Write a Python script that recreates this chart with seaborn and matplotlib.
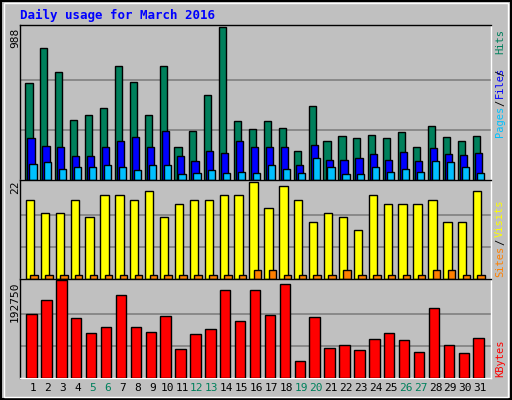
import numpy as np
import pandas as pd
import matplotlib
matplotlib.use("Agg")
import matplotlib.pyplot as plt
import seaborn as sns
from matplotlib.patches import Rectangle

days = list(range(1, 32))
hits = [625, 853, 699, 390, 423, 464, 739, 632, 423, 739, 215, 316, 551, 988, 383, 329,
        383, 336, 188, 477, 255, 282, 269, 289, 269, 309, 215, 349, 276, 255, 282]
files = [269, 222, 215, 155, 155, 215, 255, 276, 215, 316, 155, 121, 188, 175, 249, 215,
         215, 215, 94, 229, 128, 128, 141, 168, 128, 181, 121, 208, 168, 161, 175]
pages = [101, 114, 74, 87, 81, 94, 87, 67, 94, 94, 40, 47, 67, 47, 54, 47,
         94, 74, 47, 141, 87, 40, 40, 87, 54, 74, 54, 121, 114, 81, 47]
visits = [18, 15, 15, 18, 14, 19, 19, 18, 20, 14, 17, 18, 18, 19, 19, 22,
          16, 21, 18, 13, 15, 14, 11, 19, 17, 17, 17, 18, 13, 13, 20]
sites = [1, 1, 1, 1, 1, 1, 1, 1, 1, 1, 1, 1, 1, 1, 1, 2,
         2, 1, 1, 1, 1, 2, 1, 1, 1, 1, 1, 2, 2, 1, 1]
kbytes = [127088, 154600, 192750, 118600, 88960, 101670, 163090, 101670, 91080, 122850,
          57190, 86840, 97430, 173680, 112260, 173680, 124970, 186390, 33890, 120730,
          59310, 65660, 55070, 76250, 88960, 74130, 50830, 137680, 65660, 48720, 78370]
weekend = [5, 6, 12, 13, 19, 20, 26, 27]

BG = "#C0C0C0"
W, H = 512, 400
fig = plt.figure(figsize=(W / 100, H / 100), dpi=100, facecolor=BG)
mono = "DejaVu Sans Mono"

def px_axes(x0, y0, x1, y1):
    return fig.add_axes([x0 / W, 1 - y1 / H, (x1 - x0) / W, (y1 - y0) / H])

d = np.array(days, dtype=float)

def bars(ax, offs, vals, color, width):
    df = pd.DataFrame({"x": d + offs, "y": vals})
    sns.barplot(data=df, x="x", y="y", native_scale=True, width=width, color=color,
                edgecolor="black", linewidth=1, saturation=1, ax=ax, zorder=3)

def style(ax, ymax):
    ax.set_facecolor(BG)
    ax.set_xlim(0.13, 31.73)
    ax.set_ylim(0, ymax * 1.03)
    ax.set_yticks([])
    ax.set_xticks([])
    ax.set_xlabel("")
    ax.set_ylabel("")
    for f in (1 / 3, 2 / 3):
        ax.axhline(ymax * f, color="#808080", lw=1.2, zorder=1)
    for s in ax.spines.values():
        s.set_color("black")
        s.set_linewidth(1)
    ax.spines["bottom"].set_color("white")
    ax.spines["right"].set_color("white")

ax1 = px_axes(20, 25, 491, 180)
bars(ax1, -0.27, hits, "#00805C", 0.48)
bars(ax1, -0.13, files, "#0000FF", 0.48)
bars(ax1, 0.0, pages, "#00C0FF", 0.48)
style(ax1, 988 * 0.985)

ax2 = px_axes(20, 180, 491, 279)
bars(ax2, -0.2, visits, "#FFFF00", 0.56)
bars(ax2, 0.07, sites, "#FF8000", 0.5)
style(ax2, 22 * 0.99)

ax3 = px_axes(20, 279, 491, 378)
bars(ax3, -0.1, kbytes, "#FF0000", 0.7)
style(ax3, 192750 * 0.985)

def ftext(x, y, s, color, **kw):
    fig.text(x / W, 1 - y / H, s, color=color, family=mono, **kw)

ftext(20, 15, "Daily usage for March 2016", "#0000FF", fontsize=9, fontweight="bold", va="center")
ftext(15, 28, "988", "black", fontsize=8, rotation=90, ha="center", va="top")
ftext(15, 181, "22", "black", fontsize=8, rotation=90, ha="center", va="top")
ftext(15, 282, "192750", "black", fontsize=8, rotation=90, ha="center", va="top")

for s, y, c in [("Pages", 137, "#00C0FF"), ("/", 106, "black"), ("Files", 98, "#0000FF"),
                ("/", 76, "black"), ("Hits", 54, "#00805C"),
                ("Sites", 277, "#FF8000"), ("/", 245, "black"), ("Visits", 237, "#FFFF00"),
                ("KBytes", 377, "#FF0000")]:
    ftext(500, y, s, c, fontsize=7.5, rotation=90, ha="center", va="bottom")

for dd in days:
    x = 20 + (dd - 0.13) / 31.6 * 471
    ftext(x, 388, str(dd), "#00805C" if dd in weekend else "black", fontsize=8, ha="center", va="center")

fig.patches.append(Rectangle((0.002, 0.002), 0.996, 0.996, transform=fig.transFigure,
                             fill=False, edgecolor="black", lw=1.5))
fig.patches.append(Rectangle((0.008, 0.008), 0.984, 0.984, transform=fig.transFigure,
                             fill=False, edgecolor="white", lw=1))

fig.savefig("out.png", dpi=100, facecolor=BG)
